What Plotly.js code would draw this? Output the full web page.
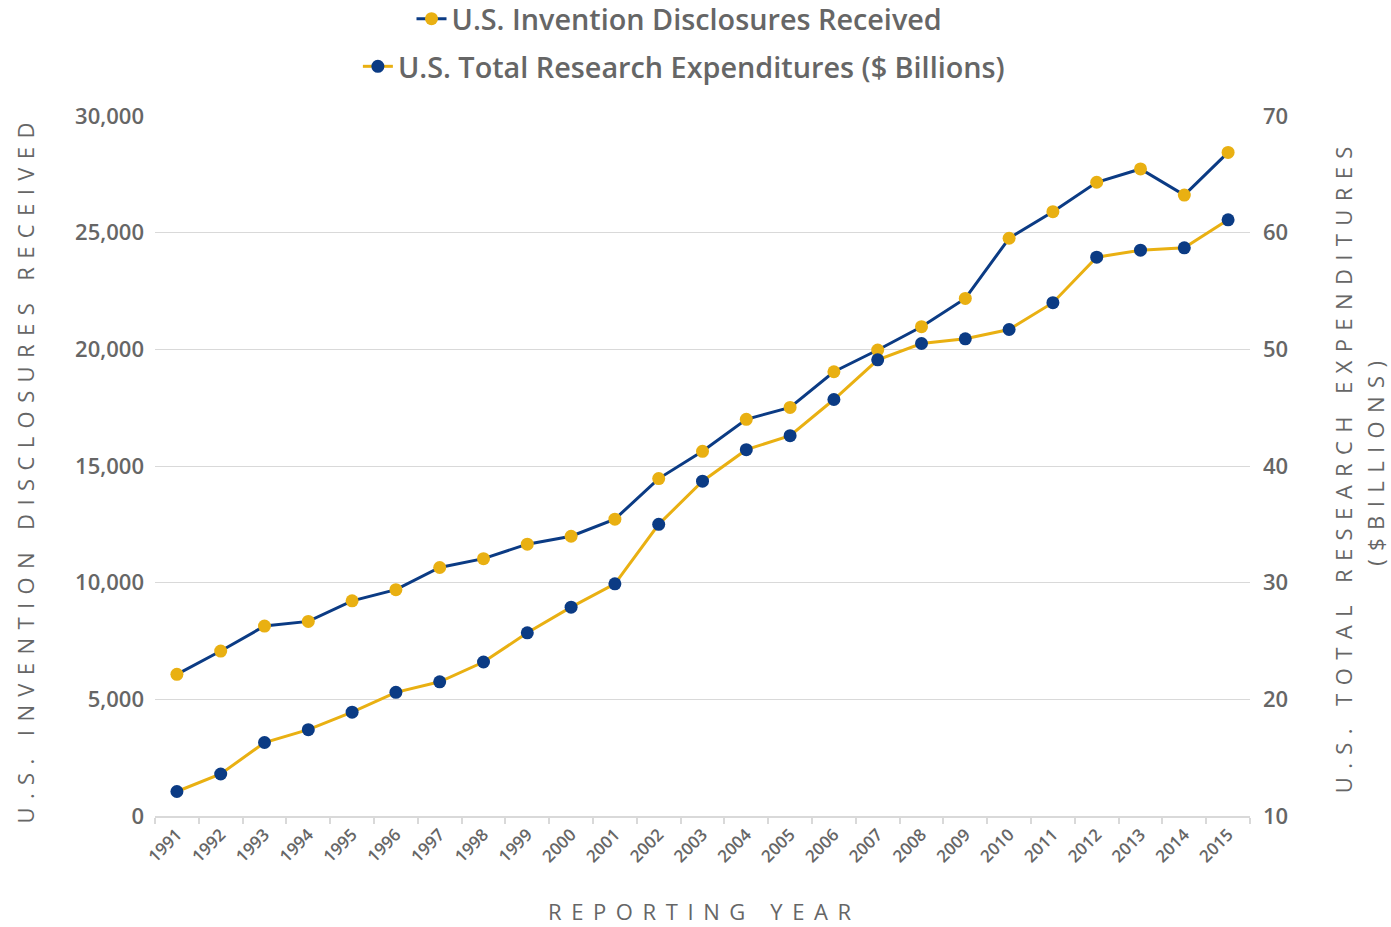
<!DOCTYPE html>
<html>
<head>
<meta charset="utf-8">
<script src="https://cdn.plot.ly/plotly-3.0.1.min.js"></script>
<style>html,body{margin:0;padding:0;background:#fff;}#chart{width:1391px;height:927px;}</style>
</head>
<body>
<div id="chart"></div>
<script>
const years = ['1991','1992','1993','1994','1995','1996','1997','1998','1999','2000','2001','2002','2003','2004','2005','2006','2007','2008','2009','2010','2011','2012','2013','2014','2015'];
const disclosures = [6070, 7070, 8140, 8340, 9220, 9700, 10650, 11030, 11650, 11990, 12720, 14460, 15630, 17000, 17510, 19040, 19970, 20970, 22180, 24760, 25900, 27160, 27730, 26610, 28440];
const expenditures = [12.1, 13.6, 16.3, 17.4, 18.9, 20.6, 21.5, 23.2, 25.7, 27.9, 29.9, 35.0, 38.7, 41.4, 42.6, 45.7, 49.1, 50.5, 50.9, 51.7, 54.0, 57.9, 58.5, 58.7, 61.1];
const leftTicks = [0, 5000, 10000, 15000, 20000, 25000, 30000];
const rightTicks = [10, 20, 30, 40, 50, 60, 70];

const NAVY = '#0b3b84';
const GOLD = '#e9b012';
const TXT = '#666666';
const GRID = '#d9d9d9';

const traces = [
  {
    x: years, y: disclosures, type: 'scatter', mode: 'lines+markers',
    name: 'U.S. Invention Disclosures Received',
    line: {color: NAVY, width: 3},
    marker: {color: GOLD, size: 13},
    yaxis: 'y', legend: 'legend'
  },
  {
    x: years, y: expenditures, type: 'scatter', mode: 'lines+markers',
    name: 'U.S. Total Research Expenditures ($ Billions)',
    line: {color: GOLD, width: 3},
    marker: {color: NAVY, size: 13},
    yaxis: 'y2', legend: 'legend2'
  }
];

const titleFont = {family: 'Open Sans', size: 22, color: TXT};
const sp = (t, s) => '<span style="letter-spacing:' + s + 'px">' + t + '</span>';
const legFont = {family: 'Open Sans', size: 28.8, weight: 600, color: TXT};

const layout = {
  width: 1391, height: 927,
  margin: {l: 155, r: 141, t: 116, b: 111, autoexpand: false},
  paper_bgcolor: '#fff', plot_bgcolor: '#fff',
  font: {family: 'Open Sans', color: TXT},
  showlegend: true,
  legend: {
    x: 0.479, xanchor: 'center', y: 1.175, yanchor: 'top',
    font: legFont, bgcolor: 'rgba(0,0,0,0)'
  },
  legend2: {
    x: 0.483, xanchor: 'center', y: 1.107, yanchor: 'top',
    font: legFont, bgcolor: 'rgba(0,0,0,0)'
  },
  xaxis: {
    type: 'category', range: [-0.5, 24.5],
    showgrid: false, zeroline: false,
    showline: true, linecolor: GRID, linewidth: 2,
    ticks: 'outside', tickson: 'boundaries', ticklen: 6, tickcolor: GRID, tickwidth: 2,
    tickangle: -45,
    tickfont: {family: 'Open Sans', size: 17, weight: 600, color: TXT},
    fixedrange: true
  },
  yaxis: {
    range: [0, 30000], tickvals: leftTicks, tickformat: ',d',
    showgrid: true, gridcolor: GRID, gridwidth: 1,
    zeroline: false, showline: false, ticks: '',
    ticklabelstandoff: 10,
    tickfont: {family: 'Open Sans', size: 22, weight: 600, color: TXT}
  },
  yaxis2: {
    range: [10, 70], tickvals: rightTicks,
    overlaying: 'y', side: 'right',
    showgrid: false, zeroline: false, showline: false, ticks: '',
    ticklabelstandoff: 12,
    tickfont: {family: 'Open Sans', size: 22, weight: 600, color: TXT}
  },
  annotations: [
    {text: sp('U.S. INVENTION DISCLOSURES RECEIVED', 8.4), xref: 'paper', yref: 'paper',
     x: -0.1196, y: 0.495, xanchor: 'center', yanchor: 'middle', textangle: -90,
     showarrow: false, borderpad: 0, font: titleFont},
    {text: sp('U.S. TOTAL RESEARCH EXPENDITURES', 8.4), xref: 'paper', yref: 'paper',
     x: 1.0849, y: 0.501, xanchor: 'center', yanchor: 'middle', textangle: -90,
     showarrow: false, borderpad: 0, font: titleFont},
    {text: sp('($BILLIONS)', 8.4), xref: 'paper', yref: 'paper',
     x: 1.1142, y: 0.509, xanchor: 'center', yanchor: 'middle', textangle: -90,
     showarrow: false, borderpad: 0, font: titleFont},
    {text: sp('REPORTING YEAR', 9.6), xref: 'paper', yref: 'paper',
     x: 0.502, y: -0.136, xanchor: 'center', yanchor: 'middle',
     showarrow: false, borderpad: 0, font: titleFont}
  ]
};

Plotly.newPlot('chart', traces, layout, {displayModeBar: false, staticPlot: true});
</script>
</body>
</html>
